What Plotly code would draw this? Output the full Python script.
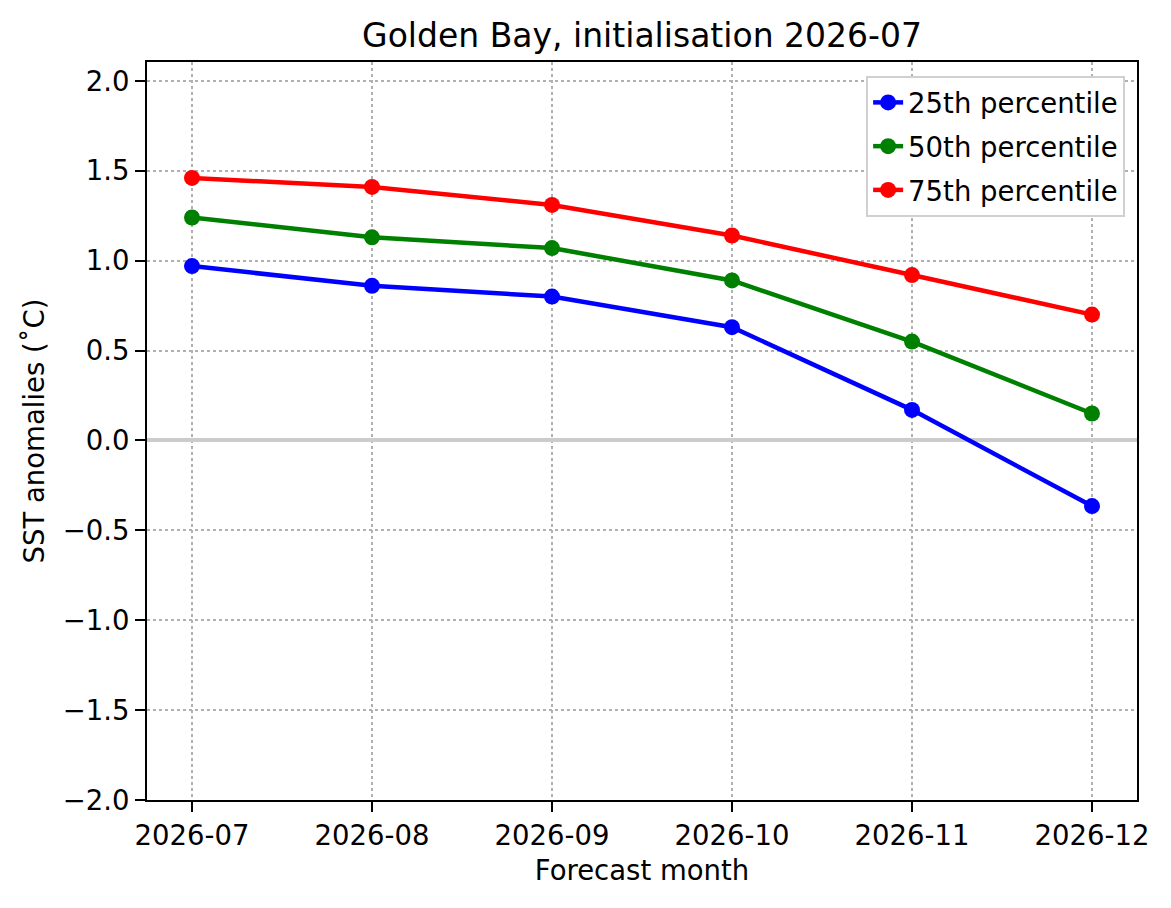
import plotly.graph_objects as go

# Données
mois = ["2026-07", "2026-08", "2026-09", "2026-10", "2026-11", "2026-12"]
p25 = [0.97, 0.86, 0.80, 0.63, 0.17, -0.365]
p50 = [1.24, 1.13, 1.07, 0.89, 0.55, 0.15]
p75 = [1.46, 1.41, 1.31, 1.14, 0.92, 0.70]

series = [
    ("25th percentile", p25, "blue"),
    ("50th percentile", p50, "green"),
    ("75th percentile", p75, "red"),
]

fig = go.Figure()
for nom, valeurs, couleur in series:
    fig.add_trace(go.Scatter(
        x=mois, y=valeurs, name=nom, mode="lines+markers", legendgroup=nom,
        line=dict(color=couleur, width=4.5),
        marker=dict(color=couleur, size=16),
    ))

police = "DejaVu Sans"
taille = 27.5
axe = dict(
    showline=True, linecolor="black", linewidth=2, mirror=True,
    ticks="outside", ticklen=10, tickwidth=2, tickcolor="black",
    showgrid=True, gridcolor="#b0b0b0", gridwidth=1.5, griddash="dot",
    tickfont=dict(family=police, size=taille, color="black"),
)

# la page ajoute 8 px de marge autour du graphique
fig.update_layout(
    width=1163, height=900,
    margin=dict(l=139, r=34, t=54, b=108),
    paper_bgcolor="white", plot_bgcolor="white",
    font=dict(family=police, color="black"),
    title=dict(text="Golden Bay, initialisation 2026-07", x=0.5,
               xref="paper", xanchor="center", y=0.97, yanchor="middle",
               font=dict(family=police, size=33, color="black")),
    legend=dict(x=0.988, y=0.981, xanchor="right", yanchor="top",
                bgcolor="white", bordercolor="#d0d0d0", borderwidth=2,
                traceorder="grouped", tracegroupgap=5,
                font=dict(family=police, size=taille, color="black")),
    showlegend=True,
)

fig.update_xaxes(**axe, type="category", range=[-0.25, 5.25],
                 title=dict(text="Forecast month", standoff=11,
                            font=dict(family=police, size=taille, color="black")))
fig.update_yaxes(**axe, range=[-2.0, 2.105], tickvals=[-2.0, -1.5, -1.0, -0.5, 0.0, 0.5, 1.0, 1.5, 2.0],
                 tickformat=".1f", zeroline=True, zerolinecolor="#cccccc", zerolinewidth=4,
                 title=dict(text="SST anomalies (˚C)", standoff=10,
                            font=dict(family=police, size=taille, color="black")))

fig.write_html("out.html")
